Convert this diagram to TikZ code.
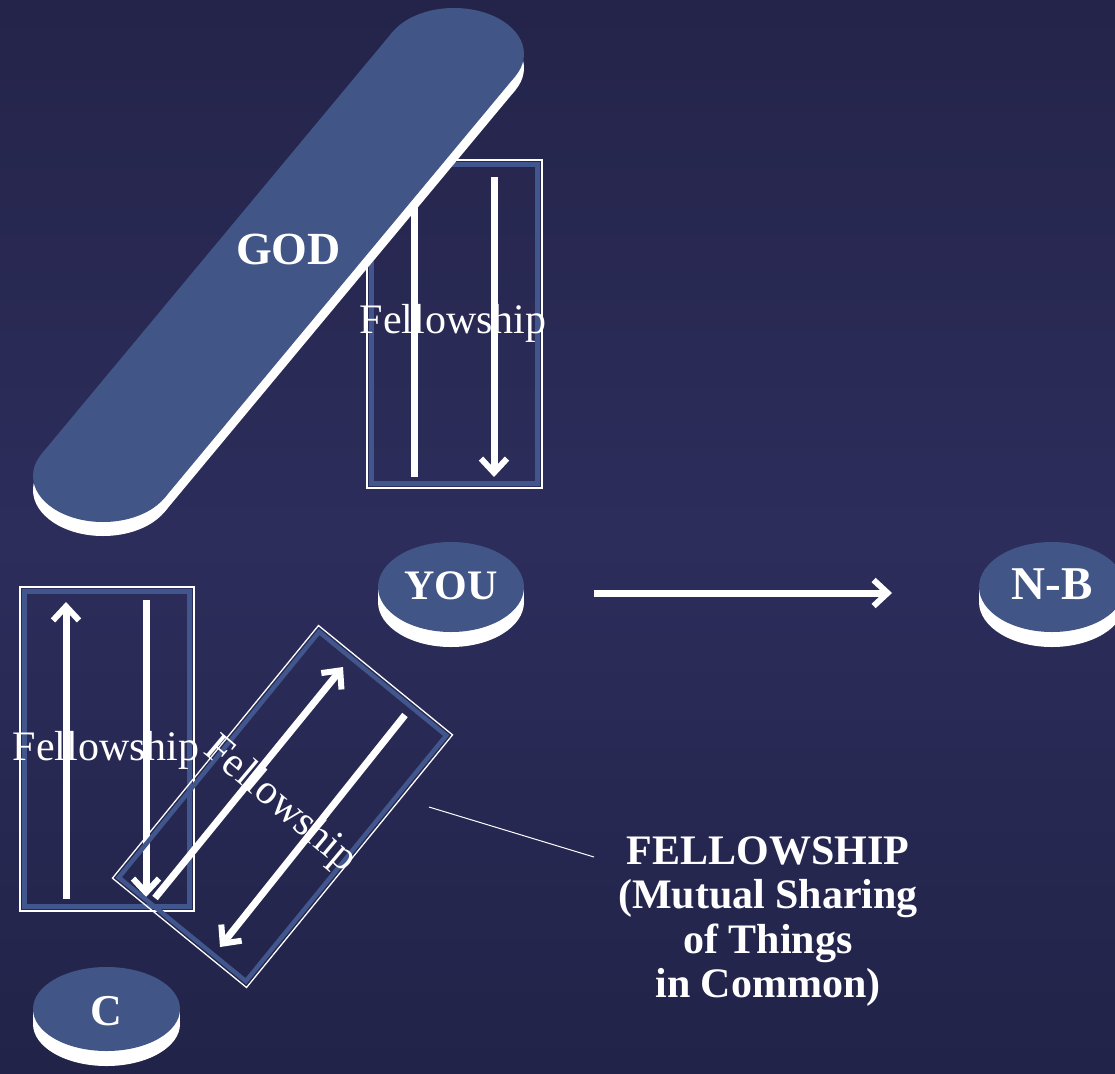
\documentclass[tikz,border=0pt]{standalone}
\usepackage{fontspec}
\setmainfont{Liberation Serif}
\usetikzlibrary{arrows.meta}
\definecolor{bgmid}{RGB}{44,45,91}
\definecolor{bgtop}{RGB}{36,36,74}
\definecolor{bgbot}{RGB}{34,35,72}
\definecolor{discblue}{RGB}{65,85,135}
\definecolor{bandblue}{RGB}{64,86,140}
\newcommand{\GodBarFill}[1]{%
  \fill[#1] (454,54) ellipse [x radius=70pt, y radius=46pt];
  \fill[#1] (103,476) ellipse [x radius=70pt, y radius=46pt];
  \fill[#1] (515.4,76.1) -- (164.4,498.1) -- (41.6,453.9) -- (392.6,31.9) -- cycle;}
\newcommand{\DiscShape}[4]{%
  \fill[white] (#1-#3,#2) rectangle (#1+#3,#2+15);
  \fill[white] (#1,#2+15) ellipse [x radius=#3pt, y radius=#4pt];
  \fill[discblue] (#1,#2) ellipse [x radius=#3pt, y radius=#4pt];}
\begin{document}
\begin{tikzpicture}[x=1pt,y=-1pt,
  fa/.style={draw=white, line width=7pt, -{Straight Barb[length=14pt,width=26pt,line width=6pt]}},
  fl/.style={draw=white, line width=7pt},
  boxouter/.style={draw=white, line width=1.3pt, rectangle, inner sep=0pt},
  boxinner/.style={draw=bandblue, line width=4.5pt, rectangle, inner sep=0pt},
  disclabel/.style={text=white, font=\fontsize{44}{50}\selectfont\bfseries, inner sep=0pt, anchor=base},
  fellow/.style={text=white, font=\fontsize{42}{48}\selectfont, inner sep=0pt}
]
\useasboundingbox (0,0) rectangle (1115,1073);
\shade[top color=bgtop, bottom color=bgbot, middle color=bgmid] (0,0) rectangle (1115,1073);

% top fellowship box
\node[boxouter, minimum width=175pt, minimum height=328pt] (boxT) at (454.5,324) {};
\node[boxinner, minimum width=166pt, minimum height=319pt] (boxTin) at (boxT.center) {};
\coordinate (t1s) at (414,200); \coordinate (t1e) at (414,477);
\coordinate (t2s) at (494,177); \coordinate (t2e) at (494,477);
\draw[fl] (t1s) -- (t1e);
\draw[fa] (t2s) -- (t2e);

% GOD bar
\begin{scope}[yshift=-14pt]
\GodBarFill{white}
\end{scope}
\GodBarFill{discblue}
\node[disclabel, font=\fontsize{46}{50}\selectfont\bfseries] (god) at (288.5,264) {GOD};
\node[fellow, anchor=base] (fT) at (453,333) {Fellowship};

% discs
\DiscShape{451}{587}{73}{45}
\DiscShape{1052}{587}{73}{45}
\DiscShape{106.5}{1009}{73.5}{42}
\node[disclabel, font=\fontsize{42}{50}\selectfont\bfseries] (you) at (451,599) {YOU};
\node[disclabel, font=\fontsize{47}{50}\selectfont\bfseries] (nb) at (1052,599) {N-B};
\node[disclabel] (c) at (106.5,1025) {C};
\coordinate (ys) at (594,593); \coordinate (ye) at (892,593);
\draw[fa] (ys) -- (ye);

% left fellowship box
\node[boxouter, minimum width=174pt, minimum height=324pt] (boxL) at (107,749) {};
\node[boxinner, minimum width=165pt, minimum height=315pt] (boxLin) at (boxL.center) {};
\coordinate (l1s) at (66,899); \coordinate (l1e) at (66,602);
\coordinate (l2s) at (146,600); \coordinate (l2e) at (146,897);
\draw[fa] (l1s) -- (l1e);
\draw[fa] (l2s) -- (l2e);

% rotated fellowship box
\node[boxouter, minimum width=173pt, minimum height=326pt, rotate=-39.2] (boxR) at (282.5,806.5) {};
\node[boxinner, minimum width=164pt, minimum height=317pt, rotate=-39.2] (boxRin) at (boxR.center) {};
\coordinate (r1s) at (155,898); \coordinate (r1e) at (343,667);
\coordinate (r2s) at (405,715); \coordinate (r2e) at (220,947);
\draw[fa] (r1s) -- (r1e);
\draw[fa] (r2s) -- (r2e);

\node[fellow, anchor=base] (fL) at (106,760) {Fellowship};
\node[fellow, rotate=-40] (fR) at (280,805) {Fellowship};

% definition
\node[text=white, font=\fontsize{42}{44.5}\selectfont\bfseries, align=center, inner sep=0pt] (def) at (768,921.5) {FELLOWSHIP\\(Mutual Sharing\\of Things\\in Common)};
\coordinate (cl) at (429,807); \coordinate (cr) at (594,857);
\draw[white, line width=1pt] (cl) -- (cr);
\end{tikzpicture}
\end{document}
